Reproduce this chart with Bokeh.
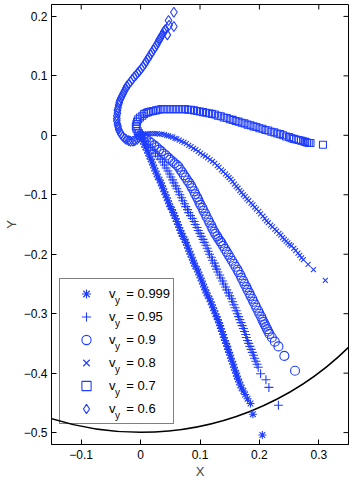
import math
from bokeh.plotting import figure
from bokeh.models import Legend, LegendItem, Label, FixedTicker, Range1d
from bokeh.embed import file_html
from bokeh.resources import INLINE

# ---------------- data ----------------
speeds = ["0.999", "0.95", "0.9", "0.8", "0.7", "0.6"]

pts_0999 = [
    (0.000, 0.000), (0.002, -0.005), (0.004, -0.010), (0.006, -0.015), (0.008, -0.020),
    (0.011, -0.025), (0.013, -0.030), (0.015, -0.035), (0.017, -0.040), (0.019, -0.045),
    (0.021, -0.050), (0.023, -0.055), (0.025, -0.060), (0.027, -0.065), (0.029, -0.070),
    (0.032, -0.075), (0.034, -0.080), (0.036, -0.085), (0.038, -0.090), (0.040, -0.095),
    (0.042, -0.100), (0.044, -0.105), (0.046, -0.110), (0.048, -0.115), (0.050, -0.120),
    (0.053, -0.125), (0.055, -0.130), (0.057, -0.135), (0.059, -0.140), (0.061, -0.145),
    (0.063, -0.150), (0.065, -0.155), (0.067, -0.160), (0.069, -0.165), (0.071, -0.170),
    (0.074, -0.175), (0.076, -0.180), (0.078, -0.185), (0.080, -0.190), (0.082, -0.195),
    (0.084, -0.200), (0.086, -0.205), (0.088, -0.210), (0.090, -0.215), (0.092, -0.220),
    (0.095, -0.225), (0.097, -0.230), (0.099, -0.235), (0.101, -0.240), (0.103, -0.245),
    (0.105, -0.250), (0.107, -0.255), (0.109, -0.260), (0.111, -0.265), (0.113, -0.270),
    (0.116, -0.275), (0.118, -0.280), (0.120, -0.285), (0.122, -0.290), (0.124, -0.295),
    (0.126, -0.300), (0.128, -0.305), (0.130, -0.310), (0.132, -0.315), (0.134, -0.320),
    (0.135, -0.325), (0.137, -0.330), (0.139, -0.335), (0.140, -0.340), (0.142, -0.345),
    (0.144, -0.350), (0.146, -0.355), (0.147, -0.360), (0.149, -0.365), (0.151, -0.370),
    (0.152, -0.375), (0.154, -0.380), (0.156, -0.385), (0.157, -0.390), (0.159, -0.395),
    (0.161, -0.400), (0.162, -0.405), (0.164, -0.410), (0.166, -0.415), (0.168, -0.420),
    (0.170, -0.425), (0.173, -0.430), (0.176, -0.436), (0.180, -0.443), (0.185, -0.451),
    (0.189, -0.469), (0.205, -0.504)]

pts_095 = [
    (0.000, 0.000), (0.005, -0.005), (0.009, -0.010), (0.013, -0.015), (0.017, -0.020),
    (0.021, -0.025), (0.025, -0.030), (0.029, -0.035), (0.033, -0.040), (0.037, -0.045),
    (0.040, -0.050), (0.043, -0.055), (0.046, -0.060), (0.049, -0.065), (0.051, -0.070),
    (0.054, -0.075), (0.056, -0.080), (0.059, -0.085), (0.061, -0.090), (0.064, -0.095),
    (0.066, -0.100), (0.069, -0.105), (0.071, -0.110), (0.074, -0.115), (0.076, -0.120),
    (0.079, -0.125), (0.081, -0.130), (0.084, -0.135), (0.087, -0.140), (0.090, -0.145),
    (0.092, -0.150), (0.095, -0.155), (0.097, -0.160), (0.100, -0.165), (0.102, -0.170),
    (0.105, -0.175), (0.107, -0.180), (0.110, -0.185), (0.112, -0.190), (0.114, -0.195),
    (0.116, -0.200), (0.119, -0.205), (0.121, -0.210), (0.124, -0.215), (0.126, -0.220),
    (0.128, -0.225), (0.130, -0.230), (0.133, -0.235), (0.135, -0.240), (0.138, -0.245),
    (0.140, -0.250), (0.143, -0.255), (0.145, -0.260), (0.148, -0.265), (0.150, -0.270),
    (0.153, -0.275), (0.155, -0.280), (0.157, -0.285), (0.159, -0.290), (0.161, -0.295),
    (0.163, -0.300), (0.165, -0.305), (0.167, -0.310), (0.169, -0.315), (0.171, -0.320),
    (0.173, -0.325), (0.175, -0.330), (0.177, -0.335), (0.178, -0.340), (0.180, -0.345),
    (0.182, -0.350), (0.184, -0.355), (0.186, -0.360), (0.188, -0.365), (0.190, -0.370),
    (0.192, -0.375), (0.194, -0.380), (0.196, -0.385), (0.198, -0.390), (0.202, -0.401),
    (0.211, -0.411), (0.216, -0.424), (0.232, -0.454)]

pts_09 = [
    (0.000, 0.000), (0.005, -0.003), (0.009, -0.006), (0.014, -0.010), (0.018, -0.013),
    (0.023, -0.017), (0.027, -0.020), (0.031, -0.024), (0.035, -0.027), (0.039, -0.031),
    (0.043, -0.034), (0.047, -0.038), (0.050, -0.041), (0.054, -0.044), (0.057, -0.047),
    (0.061, -0.050), (0.064, -0.053), (0.067, -0.058), (0.070, -0.062), (0.073, -0.067),
    (0.076, -0.071), (0.079, -0.076), (0.082, -0.080), (0.085, -0.085), (0.087, -0.089),
    (0.090, -0.094), (0.092, -0.099), (0.095, -0.104), (0.097, -0.108), (0.099, -0.113),
    (0.101, -0.117), (0.104, -0.122), (0.106, -0.127), (0.109, -0.132), (0.111, -0.137),
    (0.114, -0.142), (0.116, -0.147), (0.119, -0.152), (0.121, -0.157), (0.124, -0.162),
    (0.126, -0.166), (0.129, -0.170), (0.131, -0.174), (0.134, -0.178), (0.136, -0.181),
    (0.139, -0.186), (0.142, -0.191), (0.145, -0.196), (0.148, -0.201), (0.151, -0.206),
    (0.154, -0.211), (0.157, -0.216), (0.160, -0.221), (0.163, -0.226), (0.165, -0.230),
    (0.168, -0.235), (0.170, -0.240), (0.173, -0.245), (0.175, -0.250), (0.178, -0.255),
    (0.180, -0.260), (0.183, -0.265), (0.185, -0.270), (0.188, -0.275), (0.190, -0.280),
    (0.193, -0.285), (0.195, -0.290), (0.198, -0.295), (0.200, -0.300), (0.203, -0.305),
    (0.205, -0.310), (0.207, -0.314), (0.209, -0.318), (0.211, -0.322), (0.213, -0.326),
    (0.215, -0.330), (0.217, -0.334), (0.221, -0.340), (0.226, -0.347), (0.232, -0.355),
    (0.242, -0.371), (0.260, -0.396)]

pts_08 = [
    (0.000, 0.000), (0.004, 0.001), (0.008, 0.002), (0.012, 0.003), (0.016, 0.003),
    (0.020, 0.003), (0.024, 0.003), (0.028, 0.003), (0.032, 0.002), (0.036, 0.002),
    (0.040, 0.001), (0.044, 0.000), (0.047, -0.001), (0.051, -0.002), (0.054, -0.003),
    (0.058, -0.005), (0.061, -0.006), (0.065, -0.008), (0.069, -0.010), (0.073, -0.012),
    (0.077, -0.014), (0.081, -0.017), (0.085, -0.019), (0.089, -0.022), (0.093, -0.024),
    (0.097, -0.027), (0.101, -0.030), (0.105, -0.033), (0.109, -0.035), (0.113, -0.038),
    (0.117, -0.041), (0.121, -0.044), (0.125, -0.047), (0.129, -0.051), (0.132, -0.054),
    (0.136, -0.058), (0.139, -0.061), (0.143, -0.065), (0.146, -0.068), (0.149, -0.071),
    (0.152, -0.074), (0.155, -0.078), (0.158, -0.082), (0.161, -0.086), (0.164, -0.089),
    (0.167, -0.093), (0.170, -0.096), (0.173, -0.100), (0.176, -0.103), (0.179, -0.107),
    (0.182, -0.110), (0.186, -0.114), (0.189, -0.117), (0.192, -0.121), (0.195, -0.124),
    (0.199, -0.128), (0.202, -0.132), (0.206, -0.136), (0.209, -0.140), (0.212, -0.144),
    (0.215, -0.147), (0.219, -0.151), (0.222, -0.154), (0.226, -0.158), (0.229, -0.161),
    (0.233, -0.165), (0.236, -0.168), (0.239, -0.172), (0.242, -0.175), (0.245, -0.178),
    (0.248, -0.181), (0.251, -0.184), (0.254, -0.186), (0.258, -0.190), (0.261, -0.194),
    (0.265, -0.198), (0.268, -0.202), (0.271, -0.206), (0.274, -0.209), (0.282, -0.217),
    (0.291, -0.226), (0.311, -0.244)]

pts_07 = [
    (0.000, 0.000), (-0.003, 0.004), (-0.005, 0.007), (-0.007, 0.011), (-0.008, 0.015),
    (-0.007, 0.019), (-0.006, 0.023), (-0.004, 0.027), (-0.001, 0.030), (0.003, 0.033),
    (0.006, 0.036), (0.010, 0.038), (0.013, 0.039), (0.017, 0.040), (0.021, 0.041),
    (0.026, 0.042), (0.030, 0.043), (0.035, 0.044), (0.040, 0.044), (0.045, 0.044),
    (0.050, 0.044), (0.055, 0.044), (0.060, 0.044), (0.065, 0.044), (0.070, 0.044),
    (0.075, 0.044), (0.080, 0.043), (0.085, 0.043), (0.090, 0.042), (0.095, 0.041),
    (0.100, 0.040), (0.105, 0.039), (0.110, 0.038), (0.115, 0.037), (0.120, 0.036),
    (0.125, 0.035), (0.130, 0.033), (0.135, 0.032), (0.140, 0.030), (0.145, 0.029),
    (0.150, 0.027), (0.155, 0.026), (0.160, 0.024), (0.165, 0.023), (0.170, 0.021),
    (0.175, 0.020), (0.180, 0.018), (0.185, 0.017), (0.190, 0.015), (0.195, 0.014),
    (0.200, 0.012), (0.205, 0.011), (0.210, 0.009), (0.215, 0.008), (0.220, 0.006),
    (0.225, 0.005), (0.230, 0.003), (0.235, 0.002), (0.240, 0.000), (0.245, -0.002),
    (0.250, -0.003), (0.254, -0.005), (0.258, -0.006), (0.262, -0.007), (0.266, -0.008),
    (0.270, -0.009), (0.274, -0.010), (0.277, -0.011), (0.280, -0.012), (0.283, -0.013),
    (0.286, -0.013), (0.307, -0.016)]

pts_06 = [
    (0.000, 0.000), (-0.003, -0.004), (-0.006, -0.007), (-0.010, -0.009), (-0.013, -0.010),
    (-0.017, -0.010), (-0.020, -0.009), (-0.024, -0.007), (-0.027, -0.005), (-0.030, -0.002),
    (-0.033, 0.002), (-0.035, 0.006), (-0.037, 0.010), (-0.038, 0.015), (-0.039, 0.019),
    (-0.040, 0.024), (-0.040, 0.028), (-0.040, 0.033), (-0.039, 0.037), (-0.039, 0.042),
    (-0.038, 0.046), (-0.037, 0.051), (-0.036, 0.055), (-0.035, 0.059), (-0.033, 0.063),
    (-0.031, 0.067), (-0.029, 0.071), (-0.027, 0.075), (-0.025, 0.079), (-0.023, 0.083),
    (-0.020, 0.086), (-0.017, 0.090), (-0.014, 0.094), (-0.011, 0.098), (-0.008, 0.101),
    (-0.005, 0.105), (-0.002, 0.108), (0.001, 0.112), (0.004, 0.116), (0.007, 0.120),
    (0.009, 0.124), (0.012, 0.128), (0.014, 0.132), (0.017, 0.136), (0.019, 0.140),
    (0.022, 0.144), (0.024, 0.148), (0.027, 0.152), (0.029, 0.156), (0.031, 0.160),
    (0.033, 0.163), (0.035, 0.167), (0.037, 0.170), (0.039, 0.174), (0.041, 0.177),
    (0.045, 0.169), (0.042, 0.178), (0.048, 0.185), (0.056, 0.183), (0.047, 0.193),
    (0.056, 0.207)]

series_pts = [pts_0999, pts_095, pts_09, pts_08, pts_07, pts_06]
markers = ["asterisk", "cross", "circle", "x", "square", "diamond"]
marker_sizes = [8, 9, 9, 7, 7, 10]

x_range = (-0.15, 0.35)
y_range = (-0.52, 0.22)
x_ticks = [-0.1, 0.0, 0.1, 0.2, 0.3]
x_tick_labels = ["\u22120.1", "0", "0.1", "0.2", "0.3"]
y_ticks = [-0.5, -0.4, -0.3, -0.2, -0.1, 0.0, 0.1, 0.2]
y_tick_labels = ["\u22120.5", "\u22120.4", "\u22120.3", "\u22120.2", "\u22120.1", "0", "0.1", "0.2"]

boundary_x = [0.0]
boundary_y = [0.0]
boundary_r = [0.5]

# ---------------- figure ----------------
FONT = "Liberation Sans"
BLUE = "#1f3dff"

p = figure(frame_width=297, frame_height=440,
           x_range=Range1d(*x_range), y_range=Range1d(*y_range),
           output_backend="svg", toolbar_location=None,
           min_border_left=5, min_border_right=4, min_border_top=4, min_border_bottom=3,
           x_axis_label="X", y_axis_label="Y")
p.grid.visible = False
p.outline_line_color = "black"
p.outline_line_width = 1
p.background_fill_color = "white"

p.circle(x=boundary_x, y=boundary_y, radius=boundary_r, fill_color=None,
         line_color="black", line_width=1.6)

renderers = []
for pts, m, s in zip(series_pts, markers, marker_sizes):
    xs = [q[0] for q in pts]
    ys = [q[1] for q in pts]
    r = p.scatter(x=xs, y=ys, marker=m, size=s, fill_color=None,
                  line_color=BLUE, line_width=1.1)
    renderers.append(r)

def style_axis(ax, ticks, labels):
    ax.ticker = FixedTicker(ticks=ticks)
    ax.major_label_overrides = {t: l for t, l in zip(ticks, labels)}
    ax.major_tick_in = 5
    ax.major_tick_out = 0
    ax.minor_tick_line_color = None
    ax.axis_line_color = "black"
    ax.major_tick_line_color = "black"
    ax.major_label_text_font = FONT
    ax.major_label_text_font_size = "12px"
    ax.major_label_text_color = "black"
    ax.major_label_standoff = 5
    ax.axis_label_text_font = FONT
    ax.axis_label_text_font_size = "13px"
    ax.axis_label_text_font_style = "normal"
    ax.axis_label_standoff = 2

style_axis(p.xaxis[0], x_ticks, x_tick_labels)
style_axis(p.yaxis[0], y_ticks, y_tick_labels)
p.yaxis[0].major_label_standoff = 4

# inward tick marks on the top and right edges of the box
p.ray(x=x_ticks, y=[y_range[1]] * len(x_ticks), length=5, length_units="screen",
      angle=-math.pi / 2, line_color="black", line_width=1)
p.ray(x=[x_range[1]] * len(y_ticks), y=y_ticks, length=5, length_units="screen",
      angle=math.pi, line_color="black", line_width=1)

LEG_X, LEG_Y, PAD, GW, ROW = 8, 20, 3, 46, 23
items = [LegendItem(label="v\u00a0\u00a0\u00a0= " + sp, renderers=[r])
         for sp, r in zip(speeds, renderers)]
legend = Legend(items=items, location=(LEG_X, LEG_Y), glyph_width=GW, glyph_height=ROW,
                label_height=ROW, spacing=0, padding=PAD, label_standoff=0, margin=0,
                border_line_color="black", border_line_width=1,
                background_fill_color="white", background_fill_alpha=0,
                label_text_font=FONT, label_text_font_size="13px",
                label_text_color="black")
p.add_layout(legend)

row_top = LEG_Y + PAD + len(speeds) * ROW - ROW / 2
for i in range(len(speeds)):
    p.add_layout(Label(x=LEG_X + PAD + GW + 6.6, y=row_top - ROW * i - 5,
                       x_units="screen", y_units="screen",
                       text="y", text_font=FONT, text_font_size="10px",
                       text_color="black",
                       text_baseline="middle", text_align="left"))

open("out.html", "w").write(file_html(p, INLINE))
